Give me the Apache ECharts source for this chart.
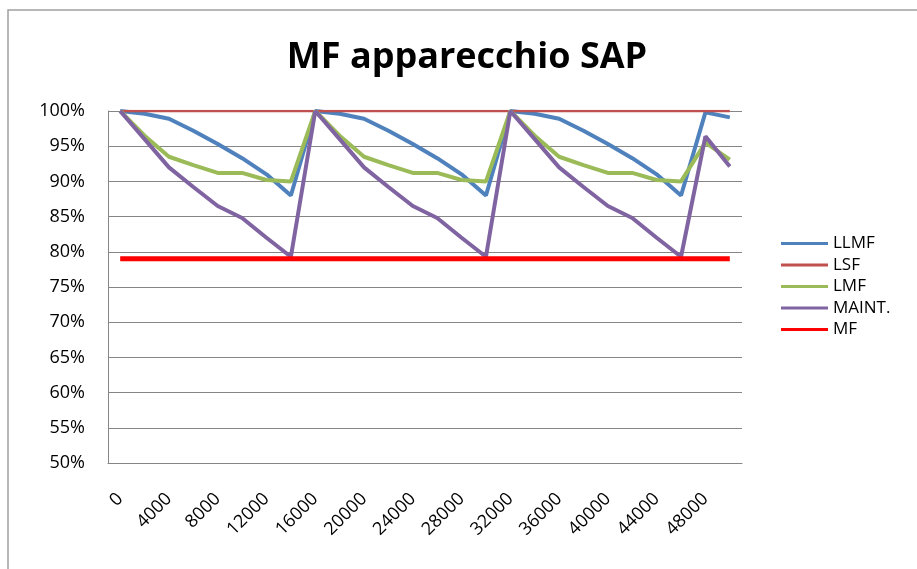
<!DOCTYPE html>
<html>
<head>
<meta charset="utf-8">
<script src="https://cdn.jsdelivr.net/npm/echarts@6/dist/echarts.min.js"></script>
<style>
	html, body { margin: 0; padding: 0; background: #fff; }
	#chart { width: 917px; height: 569px; }
</style>
</head>
<body>
<div id="chart"></div>
<script>
// ore di funzionamento (asse x)
var ore = ['0', '2000', '4000', '6000', '8000', '10000', '12000', '14000',
	'16000', '18000', '20000', '22000', '24000', '26000', '28000', '30000',
	'32000', '34000', '36000', '38000', '40000', '42000', '44000', '46000',
	'48000', '50000'];

var llmf = [100, 99.6, 98.9, 97.2, 95.3, 93.3, 91, 88,
	100, 99.6, 98.9, 97.2, 95.3, 93.3, 91, 88,
	100, 99.6, 98.9, 97.2, 95.3, 93.3, 91, 88,
	99.8, 99.1];
var lsf = [100, 100, 100, 100, 100, 100, 100, 100,
	100, 100, 100, 100, 100, 100, 100, 100,
	100, 100, 100, 100, 100, 100, 100, 100,
	100, 100];
var lmf = [100, 96.5, 93.5, 92.3, 91.2, 91.2, 90.2, 90,
	100, 96.5, 93.5, 92.3, 91.2, 91.2, 90.2, 90,
	100, 96.5, 93.5, 92.3, 91.2, 91.2, 90.2, 90,
	95.5, 93.1];
var maint = [100, 96, 92, 89.2, 86.5, 84.8, 82, 79.3,
	100, 96, 92, 89.2, 86.5, 84.8, 82, 79.3,
	100, 96, 92, 89.2, 86.5, 84.8, 82, 79.3,
	96.4, 92.1];
var mf = [79, 79, 79, 79, 79, 79, 79, 79,
	79, 79, 79, 79, 79, 79, 79, 79,
	79, 79, 79, 79, 79, 79, 79, 79,
	79, 79];

var nomi = ['LLMF', 'LSF', 'LMF', 'MAINT.', 'MF'];
var colori = ['#4F81BD', '#C0504D', '#9BBB59', '#8064A2', '#FF0000'];

var myChart = echarts.init(document.getElementById('chart'));
var font = 'Open Sans';

function linea(nome, dati, colore, spessore) {
	return {
		name: nome,
		type: 'line',
		data: dati,
		symbol: 'none',
		smooth: false,
		color: colore,
		lineStyle: { width: spessore, color: colore },
		animation: false
	};
}

var option = {
	backgroundColor: '#fff',
	graphic: [{
		type: 'rect',
		shape: { x: 8, y: 10, width: 940, height: 600 },
		style: { fill: 'none', stroke: '#a0a0a0', lineWidth: 1.5 },
		silent: true
	}],
	title: {
		text: 'MF apparecchio SAP',
		left: 462,
		top: 35,
		textAlign: 'center',
		textStyle: {
			fontFamily: font,
			fontSize: 36,
			fontWeight: 'bold',
			color: '#000'
		}
	},
	legend: {
		orient: 'vertical',
		left: 776,
		top: 230,
		itemWidth: 47,
		itemHeight: 3,
		itemGap: 4.5,
		icon: 'rect',
		textStyle: { fontFamily: font, fontSize: 17, lineHeight: 17, color: '#000' },
		data: nomi
	},
	grid: {
		left: 108,
		top: 111,
		width: 634,
		height: 352,
		containLabel: false
	},
	xAxis: {
		type: 'category',
		data: ore,
		boundaryGap: true,
		axisLine: { lineStyle: { color: '#868686', width: 1 } },
		axisTick: { show: false },
		axisLabel: {
			interval: 1,
			rotate: 45,
			margin: 33,
			fontFamily: font,
			fontSize: 18,
			color: '#000'
		},
		splitLine: { show: false }
	},
	yAxis: {
		type: 'value',
		min: 50,
		max: 100,
		interval: 5,
		axisLine: { show: true, lineStyle: { color: '#868686', width: 1 } },
		axisTick: { show: false },
		axisLabel: {
			formatter: '{value}%',
			margin: 23,
			fontFamily: font,
			fontSize: 18,
			color: '#000'
		},
		splitLine: { lineStyle: { color: '#868686', width: 1 } }
	},
	series: [
		linea(nomi[0], llmf, colori[0], 4),
		linea(nomi[1], lsf, colori[1], 2.5),
		linea(nomi[2], lmf, colori[2], 4),
		linea(nomi[3], maint, colori[3], 4),
		linea(nomi[4], mf, colori[4], 5)
	]
};
myChart.setOption(option);
</script>
</body>
</html>
